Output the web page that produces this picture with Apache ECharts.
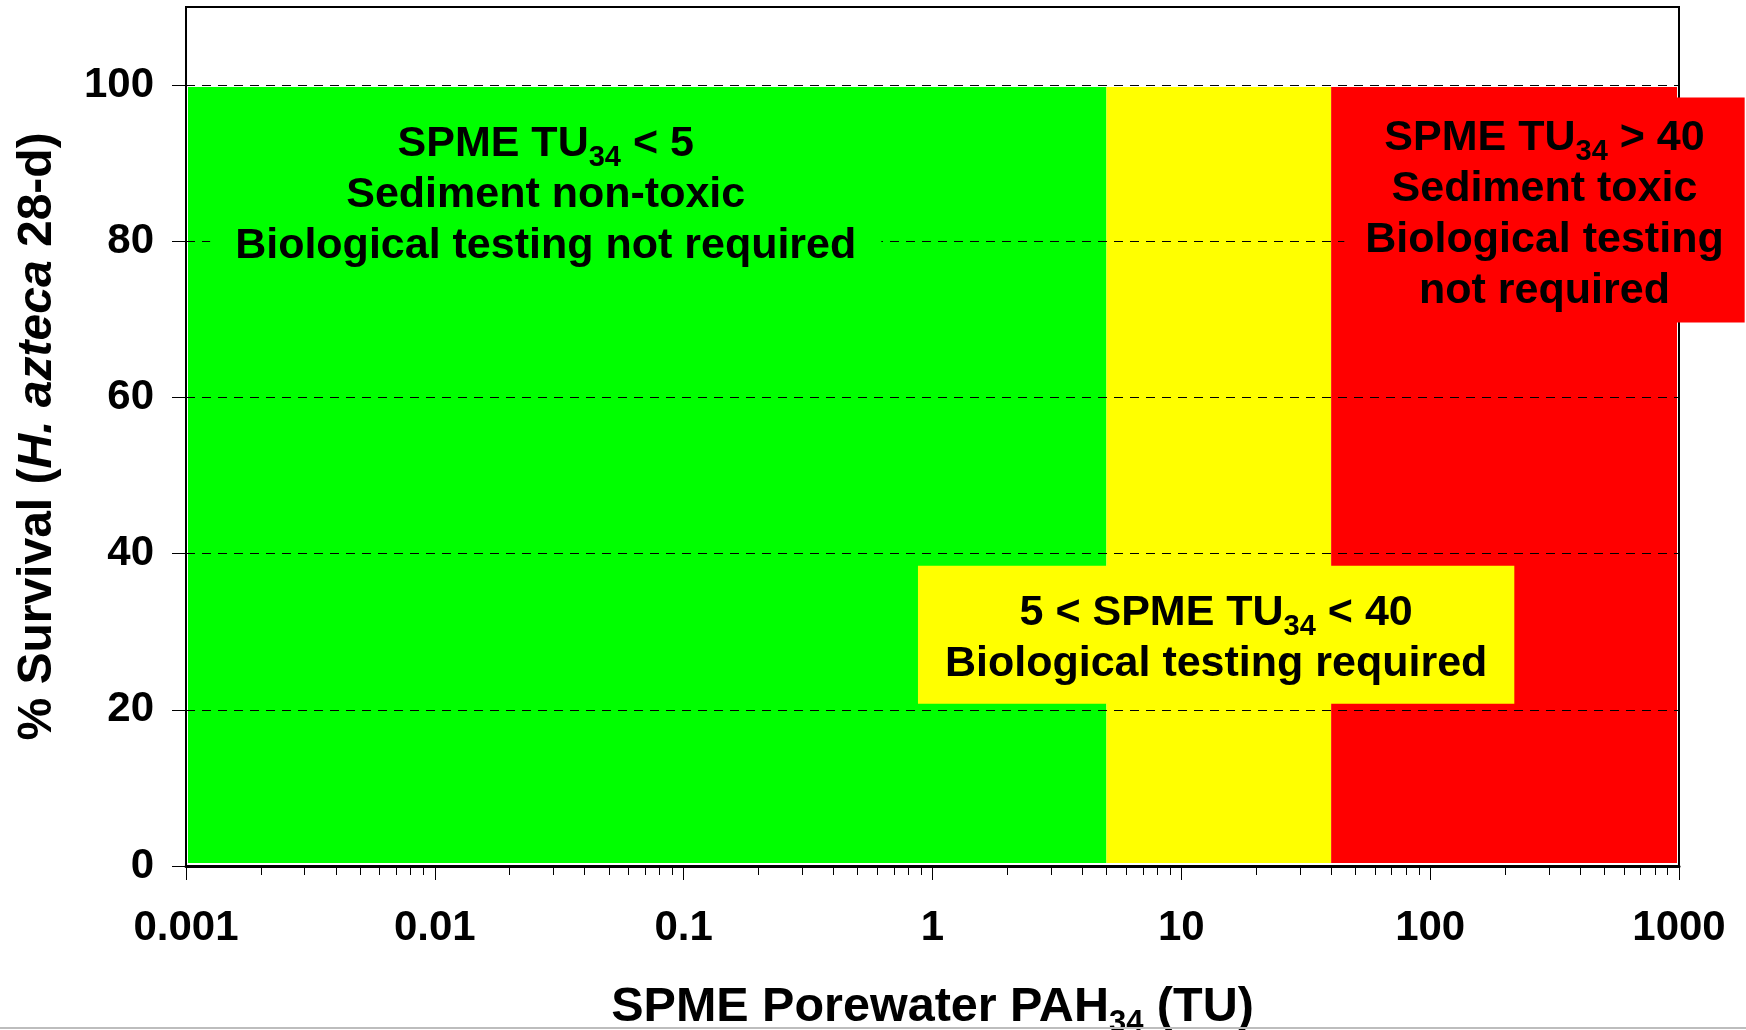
<!DOCTYPE html>
<html>
<head>
<meta charset="utf-8">
<title>SPME porewater PAH34 decision zones</title>
<script src="https://cdn.jsdelivr.net/npm/echarts@6/dist/echarts.min.js"></script>
<style>
  html, body { margin: 0; padding: 0; background: #ffffff; }
  #chart { width: 1746px; height: 1030px; }
</style>
</head>
<body>
<div id="chart"></div>
<script>
// ---- data ----
// toxic-unit thresholds bounding the three decision zones (x, log scale)
const zoneEdges = [0.001, 5, 40, 1000];
// survival (%) reached by every zone
const zoneSurvivalTop = 100;
const zoneColors = ['#00FF00', '#FFFF00', '#FF0000'];

// zone notes and where each one is anchored (TU, % survival)
const noteTexts = [
  'SPME TU{sub|34} < 5\nSediment non-toxic\nBiological testing not required',
  '5 < SPME TU{sub|34} < 40\nBiological testing required',
  'SPME TU{sub|34} > 40\nSediment toxic\nBiological testing\nnot required'
];
const noteX = [0.0279, 13.8, 288];
const noteY = [86.4, 29.6, 84];
const notePadding = [[16, 25, 8, 25], [22, 27, 14, 27], [15, 21, 6, 21]];

// axis ticks
const xTickLabels = ['0.001', '0.01', '0.1', '1', '10', '100', '1000'];
const yTicks = [0, 20, 40, 60, 80, 100];
const xMinorTicks = [];
for (let e = -3; e < 3; e++) {
  for (let m = 2; m <= 9; m++) xMinorTicks.push(+(m * Math.pow(10, e)).toPrecision(3));
}

// ---- styling helpers ----
const FONT = '"Liberation Sans", Arial, Helvetica, sans-serif';
const noteFont = 43, noteLine = 51;
const noteRich = {
  sub: {
    fontFamily: FONT, fontWeight: 'bold', fontSize: 29, color: '#000',
    lineHeight: noteLine, padding: [27, 0, 0, 0]
  }
};

const zoneData = [];
for (let i = 0; i < zoneColors.length; i++) {
  zoneData.push([zoneEdges[i], zoneEdges[i + 1], zoneSurvivalTop]);
}
const noteData = noteTexts.map((t, i) => ({
  value: [noteX[i], noteY[i]],
  label: {
    formatter: t,
    backgroundColor: zoneColors[i],
    padding: notePadding[i]
  }
}));

const chart = echarts.init(document.getElementById('chart'), null, { renderer: 'canvas' });

chart.setOption({
  animation: false,
  backgroundColor: '#ffffff',
  textStyle: { fontFamily: FONT },
  grid: {
    left: 186, right: 67, top: 7, bottom: 164,
    show: true, borderColor: '#000', borderWidth: 2,
    outerBoundsMode: 'none'
  },
  xAxis: [{
    type: 'log', logBase: 10, min: 0.001, max: 1000,
    gridIndex: 0, position: 'bottom',
    axisLine: { show: true, lineStyle: { color: '#000', width: 3 } },
    axisTick: { show: true, inside: false, length: 14, lineStyle: { color: '#000', width: 1 } },
    axisLabel: {
      show: true, margin: 41, color: '#000', fontSize: 42, fontWeight: 'bold', fontFamily: FONT,
      formatter: (v) => xTickLabels[Math.round(Math.log10(v)) + 3]
    },
    splitLine: { show: false },
    name: 'SPME Porewater PAH{sub|34} (TU)',
    nameLocation: 'middle', nameGap: 114,
    nameTextStyle: {
      color: '#000', fontSize: 48.5, fontWeight: 'bold', fontFamily: FONT, lineHeight: 56,
      rich: {
        sub: {
          fontFamily: FONT, fontWeight: 'bold', fontSize: 31, color: '#000',
          lineHeight: 56, padding: [31, 0, 0, 0]
        }
      }
    }
  }, {
    // minor log ticks (2..9 in each decade)
    type: 'log', logBase: 10, min: 0.001, max: 1000,
    gridIndex: 0, position: 'bottom',
    axisLine: { show: false },
    axisTick: { show: true, inside: false, length: 9, customValues: xMinorTicks, lineStyle: { color: '#000', width: 1 } },
    axisLabel: { show: false },
    splitLine: { show: false }
  }],
  yAxis: {
    type: 'value', min: 0, max: 110,
    axisLine: { show: true, lineStyle: { color: '#000', width: 2 } },
    axisTick: { show: true, inside: false, length: 14, customValues: yTicks, lineStyle: { color: '#000', width: 1 } },
    axisLabel: {
      customValues: yTicks, margin: 32, color: '#000', fontSize: 42, fontWeight: 'bold', fontFamily: FONT
    },
    splitLine: { show: true, lineStyle: { color: '#000', width: 1, type: [9, 7] } },
    name: '% Survival ({i|H. azteca} 28-d)',
    nameLocation: 'middle', nameGap: 124, nameRotate: 90,
    nameTextStyle: {
      color: '#000', fontSize: 48, fontWeight: 'bold', fontFamily: FONT,
      rich: {
        i: { fontFamily: FONT, fontWeight: 'bold', fontStyle: 'italic', fontSize: 48, color: '#000' }
      }
    }
  },
  series: [{
    // coloured decision zones, drawn beneath the grid lines
    type: 'custom',
    z: -1,
    silent: true,
    xAxisIndex: 0,
    encode: { x: [0, 1], y: 2 },
    data: zoneData,
    renderItem: function (params, api) {
      const i = params.dataIndex;
      const last = zoneData.length - 1;
      const pTop = api.coord([api.value(0), api.value(2)]);
      const pBot = api.coord([api.value(1), 0]);
      let x0 = pTop[0], x1 = pBot[0];
      const y0 = pTop[1] + 2, y1 = pBot[1] - 3;
      if (i === 0) x0 += 2;
      if (i === last) x1 -= 2;
      return {
        type: 'rect',
        shape: { x: x0, y: y0, width: x1 - x0, height: y1 - y0 },
        style: { fill: zoneColors[i] }
      };
    }
  }, {
    // zone notes, boxed in the zone colour
    type: 'scatter',
    z: 5,
    silent: true,
    xAxisIndex: 0,
    symbolSize: 1,
    itemStyle: { color: 'rgba(0,0,0,0)', opacity: 1 },
    label: {
      show: true, position: 'inside', align: 'center', verticalAlign: 'middle',
      opacity: 1,
      color: '#000', fontSize: noteFont, fontWeight: 'bold', fontFamily: FONT,
      lineHeight: noteLine, rich: noteRich
    },
    data: noteData
  }],
  graphic: [{
    type: 'rect', z: 100, silent: true,
    shape: { x: 0, y: 1027, width: 1746, height: 2 },
    style: { fill: '#bdbdbd' }
  }]
});
</script>
</body>
</html>
